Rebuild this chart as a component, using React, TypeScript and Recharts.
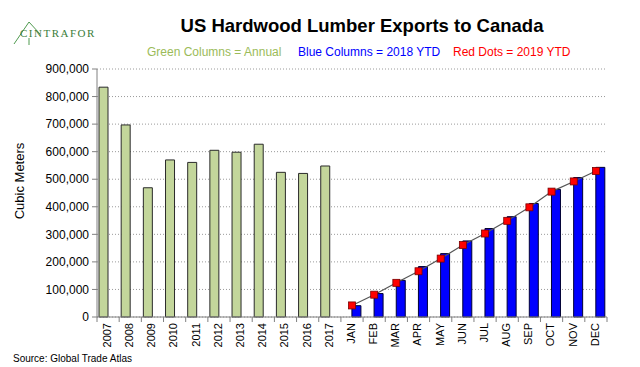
import { ComposedChart, Bar, Line, XAxis, YAxis, CartesianGrid } from "recharts";

const years = ["2007", "2008", "2009", "2010", "2011", "2012", "2013", "2014", "2015", "2016", "2017"];
const months = ["JAN", "FEB", "MAR", "APR", "MAY", "JUN", "JUL", "AUG", "SEP", "OCT", "NOV", "DEC"];
const annual = [834000, 697000, 469000, 570000, 561000, 605000, 598000, 627000, 525000, 521000, 548000];
const ytd2018 = [41000, 85000, 133000, 183000, 230000, 276000, 321000, 364000, 412000, 463000, 506000, 543000];
const ytd2019 = [42000, 81000, 124000, 166000, 212000, 261000, 303000, 349000, 398000, 455000, 492000, 530000];
const yTicks = [0, 100000, 200000, 300000, 400000, 500000, 600000, 700000, 800000, 900000];

const data = [
  ...years.map((label, i) => ({ label, annual: annual[i], ytd2018: null, ytd2019: null })),
  ...months.map((label, i) => ({ label, annual: null, ytd2018: ytd2018[i], ytd2019: ytd2019[i] })),
];

const W = 640;
const H = 367;
const PLOT_W = 510;
const BAND = PLOT_W / data.length;
const FONT = "'Liberation Sans', Arial, sans-serif";

const XTick = (props: any) => {
  const { x, y, payload, index } = props;
  const last = index === data.length - 1;
  return (
    <g>
      <line x1={x - BAND / 2} y1={y - 5} x2={x - BAND / 2} y2={y} stroke="#808080" />
      {last && <line x1={x + BAND / 2} y1={y - 5} x2={x + BAND / 2} y2={y} stroke="#808080" />}
      <text
        transform={`translate(${x - 1},${y + 1}) rotate(-90)`}
        textAnchor="end"
        dy="0.35em"
        fontSize={11}
        fontFamily={FONT}
        fill="#000"
      >
        {payload.value}
      </text>
    </g>
  );
};

const SquareDot = (props: any) => {
  const { cx, cy, value } = props;
  if (value == null || cx == null || cy == null) return null;
  return <rect x={cx - 3.5} y={cy - 3.5} width={7} height={7} fill="#ff0000" stroke="#7a0000" strokeWidth={0.8} />;
};

export default function App() {
  return (
    <div style={{ position: "absolute", left: 0, top: 0, width: W, height: H, background: "#fff", fontFamily: FONT }}>
      <ComposedChart width={W} height={H} data={data} margin={{ top: 69, right: 33, bottom: 0, left: 0 }} barGap={0}>
        <CartesianGrid vertical={false} strokeDasharray="1 2" stroke="#9a9a9a" />
        <XAxis
          dataKey="label"
          interval={0}
          height={50}
          tickLine={false}
          tickSize={5}
          tickMargin={0}
          axisLine={{ stroke: "#808080" }}
          tick={<XTick />}
        />
        <YAxis
          width={97}
          domain={[0, 900000]}
          ticks={yTicks}
          tickFormatter={(v: number) => v.toLocaleString("en-US")}
          tick={{ fill: "#000", fontSize: 12, fontFamily: FONT }}
          tickLine={{ stroke: "#808080" }}
          tickSize={5}
          tickMargin={3}
          axisLine={{ stroke: "#808080" }}
        />
        <Bar dataKey="annual" fill="#c3d69b" stroke="#2a2a2a" strokeWidth={1} barSize={9} isAnimationActive={false} />
        <Bar dataKey="ytd2018" fill="#0000ff" stroke="#000033" strokeWidth={1} barSize={9} isAnimationActive={false} />
        <Line
          dataKey="ytd2019"
          stroke="#555"
          strokeWidth={1.2}
          dot={<SquareDot />}
          activeDot={false}
          connectNulls={false}
          isAnimationActive={false}
        />
      </ComposedChart>

      <svg width={110} height={50} style={{ position: "absolute", left: 0, top: 0 }}>
        <polyline points="14,44 29,22 40,34" fill="none" stroke="#4f9a4f" strokeWidth={1} />
        <line x1={29} y1={38} x2={29} y2={45} stroke="#4f9a4f" strokeWidth={1} />
        <text x={20} y={37} fontSize={11} fontFamily="'Liberation Serif', serif" fill="#3a7d3a" letterSpacing={1.5}>
          CINTRAFOR
        </text>
      </svg>

      <div style={{ position: "absolute", left: 362, top: 17, transform: "translateX(-50%)", fontSize: 18.5, fontWeight: "bold", lineHeight: 1, whiteSpace: "nowrap" }}>
        US Hardwood Lumber Exports to Canada
      </div>
      <div style={{ position: "absolute", left: 147, top: 46, fontSize: 12, lineHeight: 1, color: "#9bbb59", whiteSpace: "nowrap" }}>
        Green Columns = Annual
      </div>
      <div style={{ position: "absolute", left: 298, top: 46, fontSize: 12, lineHeight: 1, color: "#0000ff", whiteSpace: "nowrap" }}>
        Blue Columns = 2018 YTD
      </div>
      <div style={{ position: "absolute", left: 453, top: 46, fontSize: 12, lineHeight: 1, color: "#ff0000", whiteSpace: "nowrap" }}>
        Red Dots = 2019 YTD
      </div>
      <div style={{ position: "absolute", left: 19, top: 181, transform: "translate(-50%,-50%) rotate(-90deg)", fontSize: 13, whiteSpace: "nowrap" }}>
        Cubic Meters
      </div>
      <div style={{ position: "absolute", left: 13, top: 354, fontSize: 10, lineHeight: 1, whiteSpace: "nowrap" }}>
        Source: Global Trade Atlas
      </div>
    </div>
  );
}
